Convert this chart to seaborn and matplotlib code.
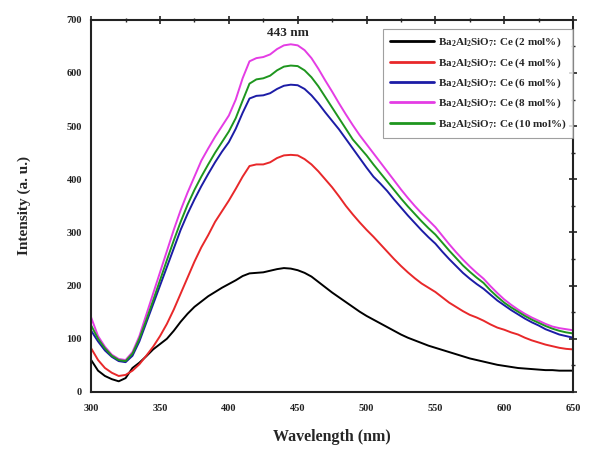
import numpy as np
import pandas as pd
import matplotlib
matplotlib.use("Agg")
import matplotlib.pyplot as plt
import seaborn as sns
from matplotlib.ticker import MultipleLocator

# Emission wavelengths (nm), 5 nm steps from 300 to 650
wavelength = list(range(300, 651, 5))

# Emission intensity (a. u.) for each Ce concentration
ce_2 = [60, 40, 30, 24, 20, 26, 45, 55, 67, 80, 90, 100, 115, 132, 147, 160,
        170, 180, 188, 196, 203, 210, 218, 223, 224, 225, 228, 231, 233, 232,
        229, 224, 217, 207, 197, 187, 178, 169, 160, 151, 143, 136, 129, 122,
        115, 108, 102, 97, 92, 87, 83, 79, 75, 71, 67, 63, 60, 57, 54, 51,
        49, 47, 45, 44, 43, 42, 41, 41, 40, 40, 40]
ce_4 = [82, 60, 45, 36, 30, 32, 40, 52, 68, 85, 105, 128, 155, 185, 215, 245,
        272, 295, 320, 340, 360, 382, 405, 425, 428, 428, 432, 440, 445, 446,
        445, 438, 428, 415, 400, 385, 368, 350, 334, 319, 305, 292, 278, 264,
        250, 237, 225, 214, 204, 196, 188, 178, 168, 160, 152, 145, 140, 134,
        127, 121, 117, 112, 108, 102, 97, 93, 89, 86, 83, 81, 80]
ce_6 = [115, 95, 78, 66, 58, 56, 68, 95, 130, 165, 200, 235, 270, 305, 335, 362,
        387, 410, 432, 452, 470, 495, 525, 552, 557, 558, 562, 570, 576, 578,
        577, 570, 558, 543, 526, 510, 494, 476, 458, 440, 422, 405, 392, 378,
        362, 347, 332, 318, 304, 291, 279, 264, 250, 237, 224, 213, 203, 194,
        183, 172, 163, 154, 146, 138, 131, 125, 118, 113, 108, 105, 102]
ce_8 = [140, 105, 85, 70, 62, 60, 75, 105, 145, 185, 225, 265, 305, 342, 375, 405,
        435, 458, 480, 500, 520, 550, 590, 622, 628, 630, 635, 645, 652, 654,
        652, 643, 628, 608, 586, 565, 543, 522, 502, 483, 466, 449, 432, 415,
        398, 381, 365, 350, 336, 323, 310, 294, 278, 263, 249, 236, 224, 213,
        199, 186, 174, 164, 155, 147, 140, 134, 128, 123, 120, 118, 116]
ce_10 = [125, 100, 82, 68, 60, 58, 72, 100, 135, 172, 210, 248, 285, 320, 352, 380,
         405, 428, 450, 470, 490, 515, 548, 580, 588, 590, 595, 605, 612, 614,
         613, 605, 592, 575, 555, 535, 515, 495, 475, 460, 445, 428, 412, 396,
         380, 364, 349, 335, 321, 308, 296, 281, 266, 252, 238, 226, 215, 205,
         191, 179, 168, 159, 151, 143, 136, 130, 124, 119, 115, 112, 110]

series_labels = [
    "Ba$_2$Al$_2$SiO$_7$: Ce (2 mol%)",
    "Ba$_2$Al$_2$SiO$_7$: Ce (4 mol%)",
    "Ba$_2$Al$_2$SiO$_7$: Ce (6 mol%)",
    "Ba$_2$Al$_2$SiO$_7$: Ce (8 mol%)",
    "Ba$_2$Al$_2$SiO$_7$: Ce (10 mol%)",
]
x_ticks = [300, 350, 400, 450, 500, 550, 600, 650]
y_ticks = [0, 100, 200, 300, 400, 500, 600, 700]
peak_label = "443 nm"
peak_wavelength = 443

series_values = [ce_2, ce_4, ce_6, ce_8, ce_10]
frames = []
for label, vals in zip(series_labels, series_values):
    frames.append(pd.DataFrame({"Wavelength": wavelength,
                                "Intensity": vals,
                                "Sample": label}))
df = pd.concat(frames, ignore_index=True)

sns.set_theme(style="white")
plt.rcParams["font.family"] = ["Liberation Serif", "DejaVu Serif"]
plt.rcParams["font.weight"] = "bold"
plt.rcParams["mathtext.fontset"] = "custom"
plt.rcParams["mathtext.rm"] = "Liberation Serif:bold"
plt.rcParams["mathtext.it"] = "Liberation Serif:bold"
plt.rcParams["mathtext.bf"] = "Liberation Serif:bold"
plt.rcParams["mathtext.default"] = "rm"

palette = ["#000000", "#e8282a", "#1c1ca6", "#e43ce4", "#1e961e"]

fig = plt.figure(figsize=(5.92, 4.51), dpi=100)
ax = fig.add_axes([0.154, 0.131, 0.814, 0.825])

sns.lineplot(data=df, x="Wavelength", y="Intensity", hue="Sample",
             palette=palette, linewidth=1.4, ax=ax)

ax.set_xlim(300, 650)
ax.set_ylim(0, 700)
ax.set_xticks(x_ticks)
ax.set_yticks(y_ticks)
ax.xaxis.set_minor_locator(MultipleLocator(25))
ax.yaxis.set_minor_locator(MultipleLocator(50))
ax.tick_params(axis="both", which="major", direction="inout", length=6,
               width=1.2, labelsize=7.5, colors="#222222",
               top=True, right=True)
ax.tick_params(axis="x", which="major", pad=6)
ax.tick_params(axis="both", which="minor", direction="inout", length=3.5,
               width=1.0, top=True, right=True)
for lab in ax.get_xticklabels() + ax.get_yticklabels():
    lab.set_fontweight("bold")
for sp in ax.spines.values():
    sp.set_linewidth(1.5)
    sp.set_color("#222222")

ax.set_xlabel("Wavelength (nm)", fontsize=11.5, fontweight="bold", labelpad=11)
ax.set_ylabel("Intensity (a. u.)", fontsize=11, fontweight="bold", labelpad=26)

ax.text(peak_wavelength, 676, peak_label, ha="center", va="center",
        fontsize=9.5, fontweight="bold")

leg = ax.legend(loc="upper right", fontsize=8, frameon=True,
                fancybox=False, edgecolor="#888888", handlelength=4.0,
                handletextpad=0.3, labelspacing=0.62, borderpad=0.6,
                bbox_to_anchor=(1.012, 0.99))
leg.get_frame().set_linewidth(0.8)
for line in leg.get_lines():
    line.set_linewidth(2.0)

fig.savefig("out.png", dpi=100)
